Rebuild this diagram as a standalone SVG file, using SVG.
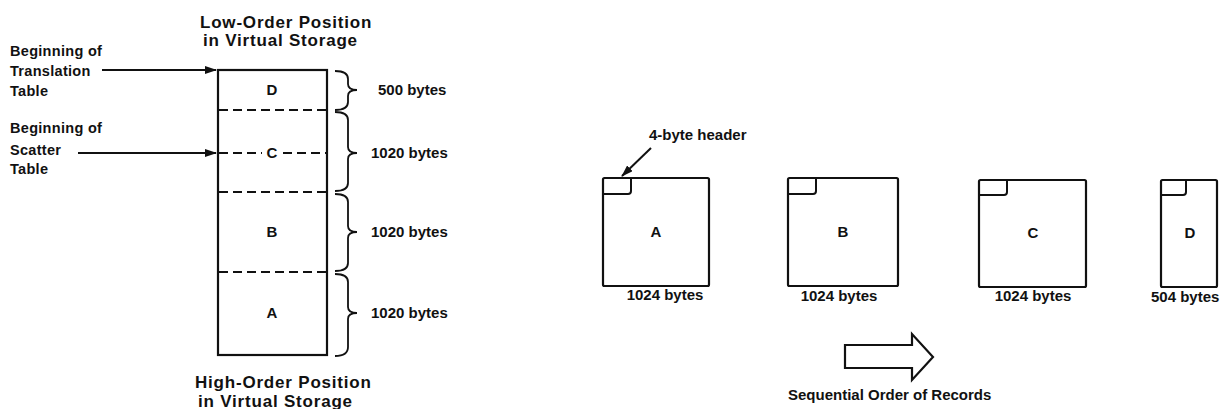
<svg xmlns="http://www.w3.org/2000/svg" width="1222" height="409" viewBox="0 0 1222 409">
  <style>
    .t { font-family: "Liberation Sans", Arial, sans-serif; font-weight: bold; fill: #111; }
    .title { font-size: 17px; letter-spacing: 0.8px; }
    .lbl { font-size: 14.5px; letter-spacing: 0.3px; }
    .sz { font-size: 15px; }
    .big { font-size: 15px; }
    .box { fill: #fff; stroke: #111; stroke-width: 2.2; }
    .dash { stroke: #111; stroke-width: 2; stroke-dasharray: 9 5; fill: none; }
    .line { stroke: #111; stroke-width: 2; fill: none; }
    .brace { stroke: #111; stroke-width: 1.8; fill: none; }
  </style>
  <defs>
    <marker id="ah" viewBox="0 0 12 8" refX="11" refY="4" markerWidth="12" markerHeight="8" markerUnits="userSpaceOnUse" orient="auto">
      <path d="M0,0 L12,4 L0,8 Z" fill="#111"/>
    </marker>
  </defs>

  <rect width="1222" height="409" fill="#fff"/>

  <!-- storage layout column -->
  <g id="storage-column">
    <text class="t title" x="200" y="28">Low-Order Position</text>
    <text class="t title" x="203" y="46">in Virtual Storage</text>
    <rect class="box" x="218" y="70" width="109" height="285"/>
    <line class="dash" x1="219" y1="110" x2="326" y2="110"/>
    <line class="dash" x1="219" y1="153" x2="262" y2="153"/>
    <line class="dash" x1="283" y1="153" x2="326" y2="153"/>
    <line class="dash" x1="219" y1="192" x2="326" y2="192"/>
    <line class="dash" x1="219" y1="272" x2="326" y2="272"/>
    <text class="t big" x="272" y="95" text-anchor="middle">D</text>
    <text class="t big" x="272" y="158" text-anchor="middle">C</text>
    <text class="t big" x="272" y="237" text-anchor="middle">B</text>
    <text class="t big" x="272" y="318" text-anchor="middle">A</text>
    <text class="t title" x="195" y="388">High-Order Position</text>
    <text class="t title" x="198" y="407">in Virtual Storage</text>
  </g>

  <!-- size braces -->
  <g id="braces">
    <path class="brace" d="M335,71 C345,71 348,74 348,79 L348,84 C348,88 351,90 357,90 C351,90 348,92 348,96 L348,102 C348,107 345,110 335,110"/>
    <path class="brace" d="M335,112 C345,112 348,115 348,120 L348,147 C348,151 351,153 357,153 C351,153 348,155 348,159 L348,183 C348,188 345,191 335,191"/>
    <path class="brace" d="M335,194 C345,194 348,197 348,202 L348,226 C348,230 351,232 357,232 C351,232 348,234 348,238 L348,263 C348,268 345,271 335,271"/>
    <path class="brace" d="M335,274 C345,274 348,277 348,282 L348,307 C348,311 351,313 357,313 C351,313 348,315 348,319 L348,347 C348,352 345,356 335,356"/>
    <text class="t sz" x="378" y="95">500 bytes</text>
    <text class="t sz" x="371" y="158">1020 bytes</text>
    <text class="t sz" x="371" y="237">1020 bytes</text>
    <text class="t sz" x="371" y="318">1020 bytes</text>
  </g>

  <!-- pointer labels -->
  <g id="translation-table-label">
    <text class="t lbl" x="10" y="56">Beginning of</text>
    <text class="t lbl" x="10" y="76">Translation</text>
    <text class="t lbl" x="10" y="96">Table</text>
  </g>
  <g id="scatter-table-label">
    <text class="t lbl" x="10" y="133">Beginning of</text>
    <text class="t lbl" x="10" y="155">Scatter</text>
    <text class="t lbl" x="10" y="174">Table</text>
  </g>

  <!-- records -->
  <g id="record-a">
    <rect class="box" x="603" y="178" width="106" height="108" rx="1.5"/>
    <path class="line" d="M603,194 L628,194 Q631,194 631,191 L631,178"/>
    <text class="t big" x="656" y="237" text-anchor="middle">A</text>
    <text class="t sz" x="665" y="300" text-anchor="middle">1024 bytes</text>
  </g>
  <g id="record-b">
    <rect class="box" x="788" y="178" width="110" height="108" rx="1.5"/>
    <path class="line" d="M788,194 L813,194 Q816,194 816,191 L816,178"/>
    <text class="t big" x="843" y="237" text-anchor="middle">B</text>
    <text class="t sz" x="839" y="301" text-anchor="middle">1024 bytes</text>
  </g>
  <g id="record-c">
    <rect class="box" x="979" y="180" width="107" height="107" rx="1.5"/>
    <path class="line" d="M979,195 L1004,195 Q1007,195 1007,192 L1007,180"/>
    <text class="t big" x="1033" y="238" text-anchor="middle">C</text>
    <text class="t sz" x="1033" y="301" text-anchor="middle">1024 bytes</text>
  </g>
  <g id="record-d">
    <rect class="box" x="1161" y="180" width="56" height="107" rx="1.5"/>
    <path class="line" d="M1161,195 L1183,195 Q1186,195 1186,192 L1186,180"/>
    <text class="t big" x="1190" y="238" text-anchor="middle">D</text>
    <text class="t sz" x="1151" y="302" font-size="14.5">504 bytes</text>
  </g>

  <g id="header-note">
    <text class="t sz" x="649" y="140" font-size="14.5">4-byte header</text>
  </g>

  <g id="order-arrow">
    <polygon points="845,345 912,345 912,334 933,357 912,380 912,368 845,368" fill="#fff" stroke="#111" stroke-width="2.2" stroke-linejoin="miter"/>
    <text class="t sz" x="788" y="400" font-size="14.3">Sequential Order of Records</text>
  </g>

  <!-- connectors -->
  <g id="connectors">
    <line class="line" x1="102" y1="70" x2="216" y2="70" marker-end="url(#ah)"/>
    <line class="line" x1="78" y1="153" x2="216" y2="153" marker-end="url(#ah)"/>
    <line class="line" x1="651" y1="148" x2="622" y2="176" marker-end="url(#ah)"/>
  </g>
</svg>
